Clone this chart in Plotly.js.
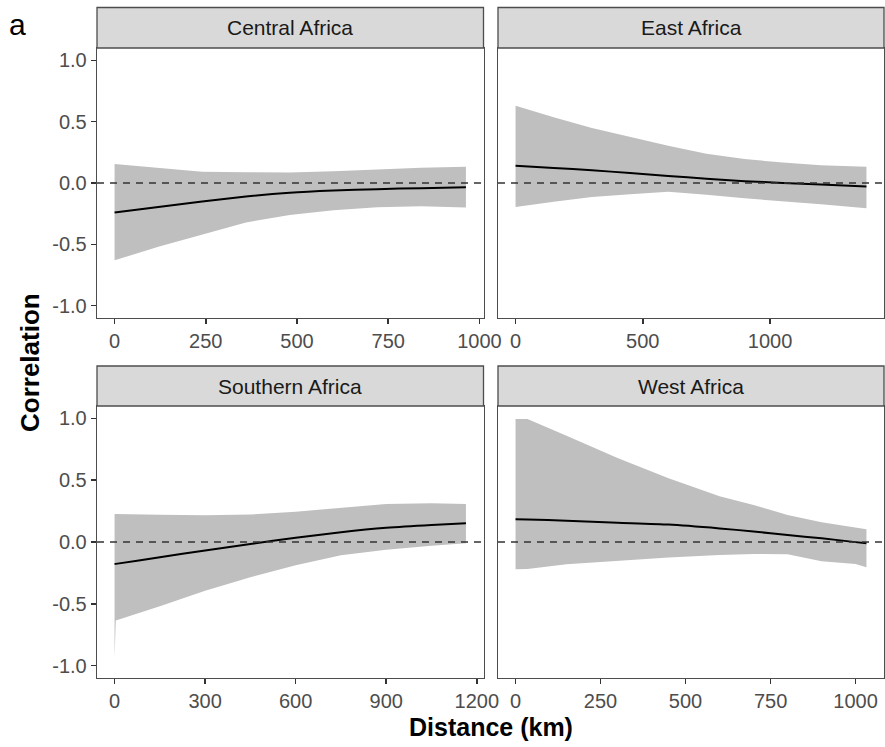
<!DOCTYPE html>
<html>
<head>
<meta charset="utf-8">
<script src="https://cdn.plot.ly/plotly-3.0.1.min.js"></script>
<style>
  html, body { margin: 0; padding: 0; background: #ffffff; }
  #chart { width: 885px; height: 747px; }
</style>
</head>
<body>
<div id="chart"></div>
<script>
// Spline correlograms by region: mean correlation with bootstrap envelope
const regions = ["Central Africa", "East Africa", "Southern Africa", "West Africa"];

const centralDist  = [0, 120, 240, 360, 480, 600, 720, 840, 963];
const centralCor   = [-0.24, -0.195, -0.15, -0.11, -0.08, -0.062, -0.05, -0.042, -0.035];
const centralUpper = [0.155, 0.125, 0.092, 0.087, 0.086, 0.095, 0.113, 0.125, 0.133];
const centralLower = [-0.63, -0.52, -0.42, -0.322, -0.26, -0.223, -0.197, -0.19, -0.20];

const eastDist  = [0, 150, 300, 450, 600, 750, 900, 1050, 1200, 1379];
const eastCor   = [0.14, 0.122, 0.104, 0.081, 0.058, 0.034, 0.014, 0.001, -0.012, -0.029];
const eastUpper = [0.63, 0.535, 0.449, 0.377, 0.304, 0.239, 0.195, 0.167, 0.145, 0.133];
const eastLower = [-0.195, -0.152, -0.114, -0.091, -0.072, -0.096, -0.125, -0.151, -0.174, -0.206];

const southDist  = [0, 4, 150, 300, 450, 600, 750, 900, 1050, 1164];
const southCor   = [-0.178, -0.177, -0.123, -0.068, -0.016, 0.034, 0.079, 0.115, 0.138, 0.151];
const southUpper = [0.226, 0.226, 0.22, 0.216, 0.222, 0.245, 0.278, 0.308, 0.313, 0.307];
const southLower = [-0.94, -0.635, -0.52, -0.395, -0.285, -0.189, -0.108, -0.062, -0.03, -0.011];

const westDist  = [0, 35, 150, 300, 450, 600, 700, 800, 900, 1000, 1032];
const westCor   = [0.183, 0.182, 0.172, 0.156, 0.141, 0.11, 0.085, 0.056, 0.03, -0.001, -0.01];
const westUpper = [0.994, 0.994, 0.86, 0.68, 0.516, 0.37, 0.30, 0.219, 0.16, 0.113, 0.103];
const westLower = [-0.221, -0.218, -0.18, -0.15, -0.125, -0.105, -0.097, -0.10, -0.156, -0.178, -0.204];

// Axis ticks
const centralTicks = [0, 250, 500, 750, 1000];
const eastTicks    = [0, 500, 1000];
const southTicks   = [0, 300, 600, 900, 1200];
const westTicks    = [0, 250, 500, 750, 1000];
const corTicks     = [-1, -0.5, 0, 0.5, 1];
const corTickText  = ["-1.0", "-0.5", "0.0", "0.5", "1.0"];

const panels = [
  { dist: centralDist, cor: centralCor, up: centralUpper, lo: centralLower, ticks: centralTicks },
  { dist: eastDist,    cor: eastCor,    up: eastUpper,    lo: eastLower,    ticks: eastTicks },
  { dist: southDist,   cor: southCor,   up: southUpper,   lo: southLower,   ticks: southTicks },
  { dist: westDist,    cor: westCor,    up: westUpper,    lo: westLower,    ticks: westTicks }
];

// Pixel geometry of the 2x2 facet grid (figure 885 x 747)
const W = 885, H = 747;
const colPx = [[97, 483.5], [498, 884]];
const rowPx = [[48, 318], [406, 678]];      // plot areas
const stripPx = [[7.5, 48], [366, 406]];    // facet strips
const px = v => v / W;
const py = v => 1 - v / H;

const FONT = "Liberation Sans, Arial, Helvetica, sans-serif";
const bandColor = "rgb(191,191,191)";
const frameColor = "#4d4d4d";

const traces = [];
const layout = {
  width: W, height: H,
  margin: { l: 0, r: 0, t: 0, b: 0, pad: 0 },
  paper_bgcolor: "#ffffff",
  plot_bgcolor: "#ffffff",
  showlegend: false,
  font: { family: FONT, color: "#4d4d4d", size: 20 },
  shapes: [],
  annotations: []
};

panels.forEach((p, i) => {
  const row = Math.floor(i / 2), col = i % 2;
  const sfx = i === 0 ? "" : String(i + 1);
  const xa = "x" + sfx, ya = "y" + sfx;

  // envelope polygon: upper edge forward, lower edge back
  traces.push({
    x: p.dist.concat(p.dist.slice().reverse()),
    y: p.up.concat(p.lo.slice().reverse()),
    xaxis: xa, yaxis: ya,
    type: "scatter", mode: "lines",
    fill: "toself", fillcolor: bandColor,
    line: { width: 0, color: bandColor },
    hoverinfo: "skip"
  });
  // mean correlation
  traces.push({
    x: p.dist, y: p.cor,
    xaxis: xa, yaxis: ya,
    type: "scatter", mode: "lines",
    line: { color: "#000000", width: 2, shape: "spline", smoothing: 0.6 }
  });

  const span = p.dist[p.dist.length - 1] - p.dist[0];
  const pad = span * 0.05;
  layout["xaxis" + sfx] = {
    domain: [px(colPx[col][0]), px(colPx[col][1])],
    anchor: ya,
    range: [p.dist[0] - pad, p.dist[p.dist.length - 1] + pad],
    tickmode: "array", tickvals: p.ticks,
    ticks: "outside", ticklen: 5, tickwidth: 1.5, tickcolor: "#333333",
    tickfont: { family: FONT, size: 20, color: "#4d4d4d" },
    showgrid: false, zeroline: false,
    showline: true, linecolor: frameColor, linewidth: 1.3, mirror: true
  };
  layout["yaxis" + sfx] = {
    domain: [py(rowPx[row][1]), py(rowPx[row][0])],
    anchor: xa,
    range: [-1.1, 1.1],
    tickmode: "array", tickvals: corTicks, ticktext: corTickText,
    ticks: col === 0 ? "outside" : "",
    ticklen: 5, tickwidth: 1.5, tickcolor: "#333333",
    showticklabels: col === 0,
    tickfont: { family: FONT, size: 20, color: "#4d4d4d" },
    showgrid: false, zeroline: false,
    showline: true, linecolor: frameColor, linewidth: 1.3, mirror: true
  };

  // dashed reference line at zero correlation
  layout.shapes.push({
    type: "line", xref: xa + " domain", yref: ya,
    x0: 0, x1: 1, y0: 0, y1: 0,
    line: { color: "#333333", width: 1.5, dash: "7px,6px" },
    layer: "above"
  });

  // facet strip
  layout.shapes.push({
    type: "rect", xref: "paper", yref: "paper",
    x0: px(colPx[col][0]), x1: px(colPx[col][1]),
    y0: py(stripPx[row][1]), y1: py(stripPx[row][0]),
    fillcolor: "#d9d9d9",
    line: { color: frameColor, width: 1.3 },
    layer: "above"
  });
  layout.annotations.push({
    xref: "paper", yref: "paper",
    x: px((colPx[col][0] + colPx[col][1]) / 2),
    y: py((stripPx[row][0] + stripPx[row][1]) / 2),
    xanchor: "center", yanchor: "middle",
    text: regions[i], showarrow: false,
    font: { family: FONT, size: 21, color: "#1a1a1a" }
  });
});

// shared axis titles and panel tag
layout.annotations.push({
  xref: "paper", yref: "paper", x: px(491), y: py(727),
  xanchor: "center", yanchor: "middle", showarrow: false,
  text: "<b>Distance (km)</b>",
  font: { family: FONT, size: 25, color: "#000000" }
});
layout.annotations.push({
  xref: "paper", yref: "paper", x: px(30), y: py(363),
  xanchor: "center", yanchor: "middle", showarrow: false, textangle: -90,
  text: "<b>Correlation</b>",
  font: { family: FONT, size: 26, color: "#000000" }
});
layout.annotations.push({
  xref: "paper", yref: "paper", x: px(17), y: py(25),
  xanchor: "center", yanchor: "middle", showarrow: false,
  text: "a",
  font: { family: FONT, size: 30, color: "#000000" }
});

Plotly.newPlot("chart", traces, layout, { displayModeBar: false, staticPlot: true });
</script>
</body>
</html>
